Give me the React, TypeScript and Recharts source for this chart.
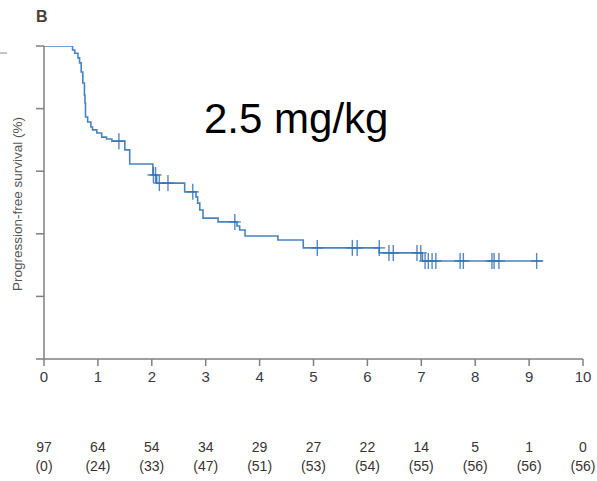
import React from "react";
import { ComposedChart, Line, Scatter, XAxis, YAxis } from "recharts";

// Kaplan-Meier step points: time (years), progression-free survival (%)
const curveTimes = [0, 0.53, 0.57, 0.63, 0.66, 0.69, 0.72, 0.75, 0.76, 0.77, 0.81, 0.87, 0.9, 0.98, 1.07, 1.16, 1.26, 1.5, 1.59, 2.02, 2.09, 2.61, 2.82, 2.85, 2.89, 2.95, 3.23, 3.58, 3.63, 3.73, 4.34, 4.81, 6.22, 7.02, 9.26];
const curveSurv = [100, 98.7, 97.7, 96.2, 94.6, 91.7, 88.2, 84.3, 81.8, 77.3, 75.7, 74.1, 73.2, 72.2, 70.9, 70.3, 69.6, 66.8, 62.3, 58.8, 56.2, 53.4, 51.8, 49.8, 47.6, 45.0, 43.8, 42.5, 41.2, 39.3, 38.0, 35.5, 33.9, 31.3, 31.3];

// Censored observations
const censorTimes = [1.39, 2.03, 2.07, 2.14, 2.3, 2.76, 3.54, 5.07, 5.72, 5.81, 6.22, 6.4, 6.48, 6.92, 6.99, 7.07, 7.13, 7.2, 7.27, 7.72, 7.78, 8.31, 8.35, 8.44, 9.14];
const censorSurv = [69.6, 58.8, 58.8, 56.2, 56.2, 53.4, 43.8, 35.5, 35.5, 35.5, 35.5, 33.9, 33.9, 33.9, 33.9, 31.3, 31.3, 31.3, 31.3, 31.3, 31.3, 31.3, 31.3, 31.3, 31.3];

// Axis ticks and numbers at risk
const xTicks = [0, 1, 2, 3, 4, 5, 6, 7, 8, 9, 10];
const yTicks = [0, 20, 40, 60, 80, 100];
const atRisk = [97, 64, 54, 34, 29, 27, 22, 14, 5, 1, 0];
const censoredCum = [0, 24, 33, 47, 51, 53, 54, 55, 56, 56, 56];

const curveData = curveTimes.map((t, i) => ({ t, s: curveSurv[i] }));
const censorData = censorTimes.map((t, i) => ({ t, s: censorSurv[i] }));

const BLUE = "#3474b8";
const AXIS = "#7f7f7f";
const FONT = "'Liberation Sans', Arial, sans-serif";

const XTick = (props: any) => {
  const { x, y, payload } = props;
  const idx = xTicks.indexOf(payload.value);
  return (
    <g>
      <text x={x} y={y} dy={14} textAnchor="middle" fontSize={15} fill="#3a3a48" fontFamily={FONT}>
        {payload.value}
      </text>
      {idx >= 0 && (
        <>
          <text x={x} y={y} dy={84} textAnchor="middle" fontSize={14} fill="#3a3333" fontFamily={FONT}>
            {atRisk[idx]}
          </text>
          <text x={x} y={y} dy={103} textAnchor="middle" fontSize={14} fill="#3a3333" fontFamily={FONT}>
            ({censoredCum[idx]})
          </text>
        </>
      )}
    </g>
  );
};

const Plus = (props: any) => {
  const { cx, cy } = props;
  return (
    <g stroke={BLUE} strokeWidth={1.4} strokeOpacity={0.85}>
      <line x1={cx} y1={cy - 8} x2={cx} y2={cy + 8} />
      <line x1={cx - 6} y1={cy} x2={cx + 6} y2={cy} />
    </g>
  );
};

export default function App() {
  return (
    <div style={{ position: "absolute", left: 0, top: 0, width: 597, height: 481, background: "#fff" }}>
      <ComposedChart width={597} height={481} margin={{ top: 46, right: 14, bottom: 0, left: 4 }}>
        <XAxis
          type="number"
          dataKey="t"
          domain={[0, 10]}
          ticks={xTicks}
          height={122}
          tickSize={7}
          tickMargin={2}
          stroke={AXIS}
          strokeWidth={1.5}
          tick={<XTick />}
          allowDataOverflow
        />
        <YAxis
          type="number"
          dataKey="s"
          domain={[0, 100]}
          ticks={yTicks}
          width={40}
          tickSize={8}
          stroke={AXIS}
          strokeWidth={1.5}
          tick={() => <g />}
          allowDataOverflow
        />
        <Line
          data={curveData}
          dataKey="s"
          type="stepAfter"
          dot={false}
          stroke={BLUE}
          strokeWidth={1.6}
          strokeOpacity={0.9}
          isAnimationActive={false}
        />
        <Scatter data={censorData} dataKey="s" shape={<Plus />} isAnimationActive={false} />
      </ComposedChart>
      <svg width={597} height={481} style={{ position: "absolute", left: 0, top: 0, pointerEvents: "none" }}>
        <text x={36} y={22} fontSize={16} fontWeight="bold" fill="#4a3f37" fontFamily={FONT}>B</text>
        <line x1={0} y1={53} x2={7} y2={53} stroke="#888" strokeWidth={1} />
        <text
          x={17}
          y={204}
          transform="rotate(-90 17 204)"
          textAnchor="middle"
          dominantBaseline="central"
          fontSize={13.5}
          fill="#555"
          fontFamily={FONT}
        >
          Progression-free survival (%)
        </text>
        <text x={204} y={133} fontSize={42} fill="#000" fontFamily={FONT}>2.5 mg/kg</text>
      </svg>
    </div>
  );
}
